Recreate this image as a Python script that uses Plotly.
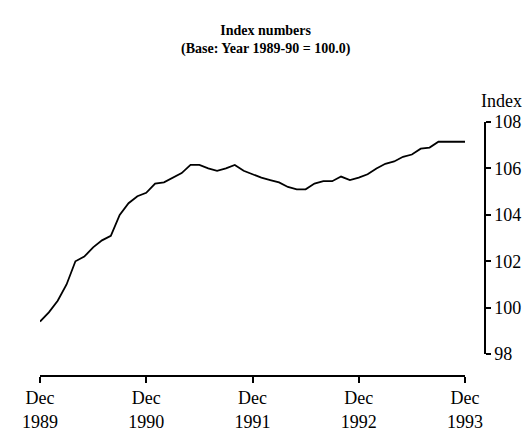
import plotly.graph_objects as go

# Months since Dec 1989 (0 = Dec 1989, 48 = Dec 1993)
months = list(range(49))
index_values = [
    99.4, 99.8, 100.3, 101.0, 102.0, 102.2, 102.6, 102.9, 103.1, 104.0,
    104.5, 104.8, 104.95, 105.35, 105.4, 105.6, 105.8, 106.15, 106.15, 106.0,
    105.9, 106.0, 106.15, 105.9, 105.75, 105.6, 105.5, 105.4, 105.2, 105.1,
    105.1, 105.35, 105.45, 105.45, 105.65, 105.5, 105.6, 105.75, 106.0, 106.2,
    106.3, 106.5, 106.6, 106.85, 106.9, 107.15, 107.15, 107.15, 107.15,
]
x_tickvals = [0, 12, 24, 36, 48]
x_ticktext = ["Dec<br>1989", "Dec<br>1990", "Dec<br>1991", "Dec<br>1992", "Dec<br>1993"]
y_tickvals = [98, 100, 102, 104, 106, 108]

FONT = "Liberation Serif"

fig = go.Figure()
fig.add_trace(go.Scatter(
    x=months, y=index_values, mode="lines",
    line=dict(color="black", width=1.8),
    showlegend=False, hoverinfo="skip",
))

W, H = 530, 436
ml, mr, mt, mb = 32, 53, 114, 55
pw = W - ml - mr
ph = H - mt - mb

fig.update_layout(
    width=W, height=H,
    margin=dict(l=ml, r=mr, t=mt, b=mb),
    paper_bgcolor="white", plot_bgcolor="white",
    font=dict(family=FONT, color="black", size=18),
    xaxis=dict(
        domain=[0, (457 - ml) / pw],
        range=[0, 48],
        anchor="free", position=0,
        showline=True, linecolor="black", linewidth=1.5,
        ticks="outside", ticklen=6, tickwidth=1.5, tickcolor="black",
        tickvals=x_tickvals, ticktext=x_ticktext,
        showgrid=False, zeroline=False,
        tickfont=dict(family=FONT, size=18),
    ),
    yaxis=dict(
        domain=[(H - mb - 358) / ph, 1],
        range=[98, 108],
        side="right", anchor="free", position=1,
        showline=True, linecolor="black", linewidth=1.5,
        ticks="outside", ticklen=5, tickwidth=1.5, tickcolor="black",
        tickvals=y_tickvals,
        showgrid=False, zeroline=False,
        tickfont=dict(family=FONT, size=18),
    ),
    annotations=[
        dict(text="<b>Index numbers</b><br><b>(Base: Year 1989-90 = 100.0)</b>",
             xref="paper", yref="paper", x=(258 - ml) / pw, y=1,
             xanchor="center", yanchor="middle", yshift=82,
             showarrow=False, font=dict(family=FONT, size=14)),
        dict(text="Index", xref="paper", yref="paper",
             x=1, y=1, xanchor="left", yanchor="middle", xshift=-6, yshift=21,
             showarrow=False, font=dict(family=FONT, size=18)),
    ],
)

fig.write_html("out.html")
